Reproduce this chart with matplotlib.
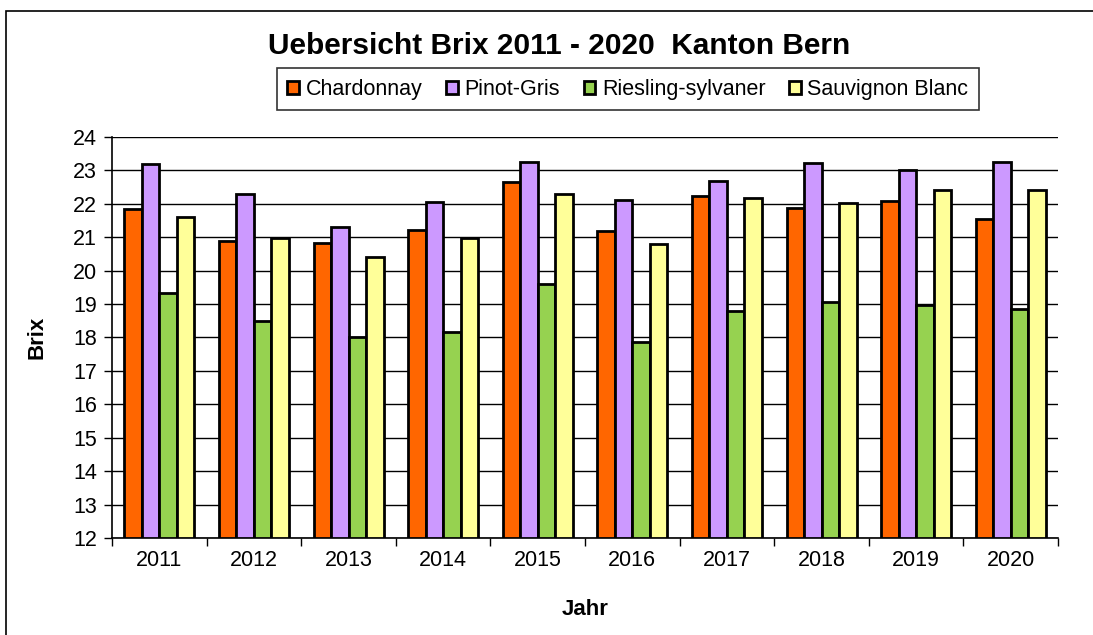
import numpy as np
import matplotlib.pyplot as plt
from matplotlib.patches import Rectangle

plt.rcParams['font.family'] = ['Liberation Sans', 'DejaVu Sans']

years = ['2011', '2012', '2013', '2014', '2015', '2016', '2017', '2018', '2019', '2020']
chardonnay = [21.84, 20.9, 20.83, 21.22, 22.65, 21.19, 22.23, 21.88, 22.09, 21.56]
pinot_gris = [23.19, 22.3, 21.3, 22.06, 23.25, 22.12, 22.69, 23.22, 23.02, 23.25]
riesling = [19.34, 18.5, 18.0, 18.17, 19.6, 17.86, 18.8, 19.07, 18.96, 18.86]
sauvignon = [21.6, 20.97, 20.42, 20.97, 22.3, 20.8, 22.16, 22.03, 22.4, 22.4]

series = [('Chardonnay', chardonnay, '#FF6600'),
          ('Pinot-Gris', pinot_gris, '#CC99FF'),
          ('Riesling-sylvaner', riesling, '#96D250'),
          ('Sauvignon Blanc', sauvignon, '#FFFF99')]

fig = plt.figure(figsize=(10.93, 6.35), dpi=100)
ax = fig.add_axes([0.1025, 0.1528, 0.8655, 0.6315])

# outer chart frame
fig.patches.append(Rectangle((6 / 1093, -0.1), 1.2, 1 - 11 / 635 + 0.1, transform=fig.transFigure,
                             fill=False, edgecolor='black', linewidth=1.2))

x = np.arange(len(years))
w = 0.185
for i, (name, vals, col) in enumerate(series):
    ax.bar(x + (i - 1.5) * w, np.array(vals) - 12, w, bottom=12, color=col,
           edgecolor='black', linewidth=2, label=name, zorder=3)

ax.set_xlim(-0.5, len(years) - 0.5)
ax.set_ylim(12, 24)
ax.set_yticks(range(12, 25))
ax.yaxis.grid(True, color='black', linewidth=1, zorder=0)
ax.set_xticks(x)
ax.set_xticklabels(years, fontsize=15.5)
ax.tick_params(axis='x', length=0, pad=9)
ax.set_xticks(np.arange(-0.5, len(years)), minor=True)
ax.tick_params(axis='x', which='minor', length=6, width=1)
ax.tick_params(axis='y', labelsize=15.5, length=6, width=1, pad=5)

for s in ['top', 'right']:
    ax.spines[s].set_visible(False)
ax.spines['left'].set_linewidth(1.2)
ax.spines['bottom'].set_linewidth(1.2)

ax.set_ylabel('Brix', fontsize=16, fontweight='bold', labelpad=18)
ax.set_xlabel('Jahr', fontsize=16, fontweight='bold', labelpad=20)

fig.text(0.512, 0.928, 'Uebersicht Brix 2011 - 2020  Kanton Bern', ha='center', va='center',
         fontsize=21.5, fontweight='bold')

leg = ax.legend(loc='center', bbox_to_anchor=(0.5745, 0.8595), bbox_transform=fig.transFigure,
                ncol=4, fontsize=15.5, frameon=True, fancybox=False, edgecolor='black',
                handlelength=0.55, handleheight=0.55, handletextpad=0.3, columnspacing=1.1,
                borderpad=0.5)
leg.get_frame().set_linewidth(1.2)

fig.savefig('out.png', dpi=100)
